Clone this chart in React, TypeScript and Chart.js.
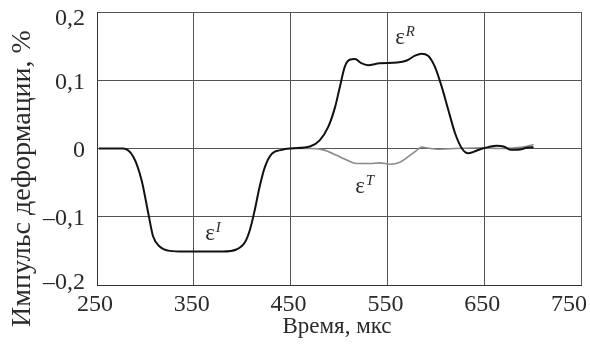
import React, { useEffect, useRef } from 'react';
import { Chart, registerables } from 'chart.js';

Chart.register(...registerables);

// Incident + reflected pulse (black line), time in µs, strain in %
const timeMain = [252, 265, 277, 287.5, 296, 303, 308, 315, 325, 340, 360, 380, 394, 403, 408, 413, 418, 423.5, 430.5, 441, 450, 470, 480, 489, 496, 501, 506, 511, 516.5, 523, 530, 542, 560, 570, 578.5, 585, 592, 599, 606, 613, 620, 627, 633.5, 639, 646, 654, 663, 670, 678, 685, 694, 701];
const strainMain = [0, 0, 0, -0.012, -0.046, -0.095, -0.129, -0.144, -0.150, -0.151, -0.151, -0.151, -0.148, -0.137, -0.119, -0.090, -0.056, -0.027, -0.008, -0.002, 0, 0.003, 0.012, 0.032, 0.061, 0.091, 0.120, 0.130, 0.131, 0.125, 0.122, 0.125, 0.126, 0.129, 0.136, 0.139, 0.136, 0.120, 0.091, 0.056, 0.022, 0, -0.007, -0.005, -0.001, 0.002, 0.004, 0.003, -0.002, -0.002, 0.001, 0.002];

// Transmitted pulse (grey line)
const timeTrans = [450, 470, 484, 497.5, 508, 518, 532, 542, 552.7, 563, 571.6, 580, 585.4, 590, 604, 621, 648, 665, 690, 701];
const strainTrans = [0, 0, -0.002, -0.010, -0.017, -0.022, -0.022, -0.021, -0.023, -0.020, -0.012, -0.003, 0.002, 0.001, -0.001, 0, 0.001, 0, 0.002, 0.006];

const xTicks = [250, 350, 450, 550, 650, 750];
const yTicks = [-0.2, -0.1, 0, 0.1, 0.2];

const curveLabels = ['I', 'R', 'T'];
const labelTimes = [366.7, 563, 521.7];
const labelStrains = [-0.125, 0.162, -0.056];

const xTitle = 'Время, мкс';
const yTitle = 'Импульс деформации, %';

const SERIF = '"Liberation Serif", "Times New Roman", serif';

function fmt(v: number): string {
  if (Math.abs(v) < 1e-9) return '0';
  return (v < 0 ? '–' : '') + Math.abs(v).toFixed(1).replace('.', ',');
}

const textPlugin = {
  id: 'textPlugin',
  afterDraw(chart: any) {
    const ctx = chart.ctx as CanvasRenderingContext2D;
    const xs = chart.scales.x;
    const ys = chart.scales.y;
    const area = chart.chartArea;
    ctx.save();
    ctx.fillStyle = '#2a2a2a';
    // x tick labels
    ctx.font = `24px ${SERIF}`;
    ctx.textBaseline = 'alphabetic';
    ctx.textAlign = 'center';
    xTicks.forEach((t) => {
      const s = String(t);
      const w = ctx.measureText(s).width;
      let px = xs.getPixelForValue(t) - 2;
      px = Math.min(px, chart.width - 3 - w / 2);
      ctx.fillText(s, px, area.bottom + 26);
    });
    // y tick labels
    ctx.textAlign = 'right';
    ctx.textBaseline = 'middle';
    yTicks.forEach((v) => {
      let py = ys.getPixelForValue(v) + 2;
      py = Math.min(Math.max(py, area.top + 7), area.bottom - 2);
      ctx.fillText(fmt(v), area.left - 12, py);
    });
    // x title
    ctx.font = `23px ${SERIF}`;
    ctx.textAlign = 'center';
    ctx.textBaseline = 'alphabetic';
    ctx.fillText(xTitle, (area.left + area.right) / 2 - 2, area.bottom + 48);
    // y title
    ctx.save();
    ctx.font = `28px ${SERIF}`;
    ctx.translate(23, (area.top + area.bottom) / 2 + 30);
    ctx.rotate(-Math.PI / 2);
    ctx.textAlign = 'center';
    ctx.textBaseline = 'middle';
    ctx.fillText(yTitle, 0, 0);
    ctx.restore();
    // curve labels
    curveLabels.forEach((sup, i) => {
      const px = xs.getPixelForValue(labelTimes[i]);
      const py = ys.getPixelForValue(labelStrains[i]);
      ctx.font = `23px ${SERIF}`;
      ctx.textAlign = 'left';
      ctx.textBaseline = 'alphabetic';
      const w = ctx.measureText('ε').width;
      ctx.fillText('ε', px - w / 2, py + 6);
      ctx.font = `italic 15px ${SERIF}`;
      ctx.fillText(sup, px + w / 2 + 1, py - 2);
    });
    ctx.restore();
  },
};

export default function App() {
  const ref = useRef<HTMLCanvasElement | null>(null);
  useEffect(() => {
    if (!ref.current) return;
    const chart = new Chart(ref.current, {
      type: 'line',
      data: {
        datasets: [
          {
            label: 'εI / εR',
            data: timeMain.map((t, i) => ({ x: t, y: strainMain[i] })),
            borderColor: '#111',
            borderWidth: 2,
            pointRadius: 0,
            cubicInterpolationMode: 'monotone',
            fill: false,
          },
          {
            label: 'εT',
            data: timeTrans.map((t, i) => ({ x: t, y: strainTrans[i] })),
            borderColor: '#8a8a8a',
            borderWidth: 1.6,
            pointRadius: 0,
            cubicInterpolationMode: 'monotone',
            fill: false,
          },
        ],
      },
      options: {
        animation: false,
        responsive: false,
        devicePixelRatio: 1,
        layout: { padding: { top: 12, right: 9, left: 0, bottom: 0 } },
        plugins: { legend: { display: false }, tooltip: { enabled: false } },
        scales: {
          x: {
            type: 'linear',
            min: 250,
            max: 750,
            afterBuildTicks: (s: any) => {
              s.ticks = xTicks.map((v) => ({ value: v }));
            },
            ticks: { display: false },
            grid: { color: '#555', lineWidth: 1, drawTicks: false },
            border: { display: true, color: '#333', width: 1 },
            afterFit: (s: any) => {
              s.height = 68;
              s.paddingLeft = 0;
              s.paddingRight = 0;
            },
          },
          y: {
            type: 'linear',
            min: -0.2,
            max: 0.2,
            afterBuildTicks: (s: any) => {
              s.ticks = yTicks.map((v) => ({ value: v }));
            },
            ticks: { display: false },
            grid: { color: '#555', lineWidth: 1, drawTicks: false },
            border: { display: true, color: '#333', width: 1 },
            afterFit: (s: any) => {
              s.width = 97;
              s.paddingTop = 0;
              s.paddingBottom = 0;
            },
          },
        },
      },
      plugins: [textPlugin],
    } as any);
    return () => chart.destroy();
  }, []);
  return (
    <div style={{ position: 'fixed', left: 0, top: 0, width: 590, height: 353, background: '#fff' }}>
      <canvas ref={ref} width={590} height={353} style={{ display: 'block', width: 590, height: 353 }} />
    </div>
  );
}
